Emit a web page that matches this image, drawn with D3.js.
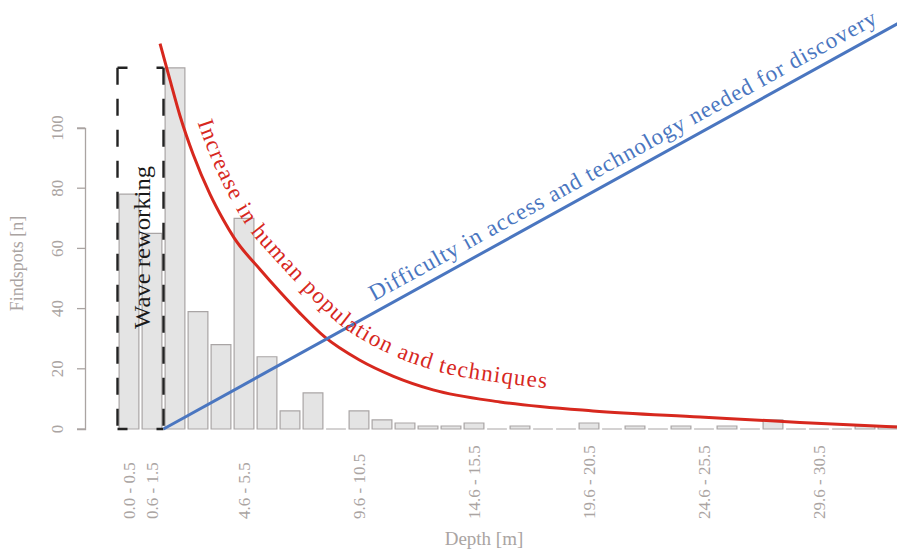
<!DOCTYPE html>
<html>
<head>
<meta charset="utf-8">
<script src="https://cdn.jsdelivr.net/npm/d3@7"></script>
<style>
    body { margin: 0; background: #fff; }
    text, textPath { font-family: "Liberation Serif", "DejaVu Serif", serif; }
</style>
</head>
<body>
<script>
/*******************************/
/* FINDSPOTS BY DEPTH HISTOGRAM */
/*******************************/

// depth bins (1 m each)
const bins = ["0.0 - 0.5", "0.6 - 1.5", "1.6 - 2.5", "2.6 - 3.5", "3.6 - 4.5",
    "4.6 - 5.5", "5.6 - 6.5", "6.6 - 7.5", "7.6 - 8.5", "8.6 - 9.5",
    "9.6 - 10.5", "10.6 - 11.5", "11.6 - 12.5", "12.6 - 13.5", "13.6 - 14.5",
    "14.6 - 15.5", "15.6 - 16.5", "16.6 - 17.5", "17.6 - 18.5", "18.6 - 19.5",
    "19.6 - 20.5", "20.6 - 21.5", "21.6 - 22.5", "22.6 - 23.5", "23.6 - 24.5",
    "24.6 - 25.5", "25.6 - 26.5", "26.6 - 27.5", "27.6 - 28.5", "28.6 - 29.5",
    "29.6 - 30.5", "30.6 - 31.5", "31.6 - 32.5", "32.6 - 33.5"];
// number of findspots per bin
const counts = [78, 65, 120, 39, 28, 70, 24, 6, 12, 0,
    6, 3, 2, 1, 1, 2, 0, 1, 0, 0,
    2, 0, 1, 0, 1, 0, 1, 0, 3, 0,
    0, 0, 1, 1];
// only these bins get a label on the x axis
const shownBins = ["0.0 - 0.5", "0.6 - 1.5", "4.6 - 5.5", "9.6 - 10.5",
    "14.6 - 15.5", "19.6 - 20.5", "24.6 - 25.5", "29.6 - 30.5"];
const yTicks = [0, 20, 40, 60, 80, 100];
// bins covered by the wave reworking box
const waveBins = ["0.0 - 0.5", "0.6 - 1.5"];
// schematic curves: [bin position, findspots]
const humanCurve = [[1.35, 128], [1.78, 116], [2.22, 104], [2.8, 91], [3.52, 78],
    [4.1, 69.5], [4.57, 63.5], [5.7, 53], [6.57, 45.5], [7.43, 38.5],
    [8.52, 30.5], [10.0, 23], [11.5, 17.5], [13.22, 13], [16.13, 9.0],
    [20.17, 6.0], [24.83, 4.0], [29.17, 2.2], [33.39, 0.7]];
const difficultyLine = [[1.5, 0], [33.5, 135]];

function HistChart() {
    let obj = {};
    const width = 897, height = 550;
    const font = "Liberation Serif";
    const grey = "#aaa4a2";
    const red = "#d7281e";
    const blue = "#4a76c0";
    let svg, x, xpos, y;

    obj.setUpChart = () => {
        obj.createSvg();
        obj.createScale();
        obj.createBars();
        obj.createBox();
        obj.createCurves();
    }

    obj.createSvg = () => {
        svg = d3.select("body")
            .append("svg")
            .attr("width", width)
            .attr("height", height)
            .attr("font-family", font);
    }

    obj.createScale = () => {
        // bars: one band per bin
        x = d3.scaleBand()
            .domain(bins)
            .range([117.5, 117.5 + 23 * bins.length])
            .paddingInner(0.14)
            .paddingOuter(0.07);
        // continuous position, 0 = centre of first bin
        xpos = d3.scaleLinear()
            .domain([0, bins.length - 1])
            .range([x(bins[0]) + x.bandwidth() / 2,
                    x(bins[bins.length - 1]) + x.bandwidth() / 2]);
        y = d3.scaleLinear()
            .domain([0, 100])
            .range([429, 128]);

        // y axis, labels turned like R does
        const yAxis = svg.append("g")
            .attr("transform", "translate(85,0)")
            .call(d3.axisLeft(y).tickValues(yTicks).tickSize(8));
        yAxis.select(".domain").attr("stroke", grey).attr("stroke-width", 1.3);
        yAxis.selectAll(".tick line").attr("stroke", grey).attr("stroke-width", 1.3);
        yAxis.selectAll(".tick text")
            .attr("fill", grey)
            .attr("font-size", 17)
            .attr("font-family", font)
            .attr("text-anchor", "middle")
            .attr("transform", "rotate(-90)")
            .attr("x", d => -y(d))
            .attr("y", -22)
            .attr("dy", 0);
        yAxis.selectAll(".tick").attr("transform", null)
            .select("line")
            .attr("y1", d => y(d)).attr("y2", d => y(d));

        svg.append("text")
            .attr("transform", "translate(23," + ((y(0) + y(100)) / 2 - 15) + ") rotate(-90)")
            .attr("text-anchor", "middle")
            .attr("fill", grey)
            .attr("font-size", 18)
            .text("Findspots [n]");

        // x axis only shows labels
        const xAxis = svg.append("g")
            .attr("transform", "translate(0," + y(0) + ")")
            .call(d3.axisBottom(x).tickValues(shownBins).tickSize(0));
        xAxis.select(".domain").remove();
        xAxis.selectAll(".tick text")
            .attr("fill", grey)
            .attr("font-size", 17)
            .attr("font-family", font)
            .attr("text-anchor", "start")
            .attr("transform", "rotate(-90)")
            .attr("x", -90)
            .attr("y", 0)
            .attr("dy", "0.35em");

        svg.append("text")
            .attr("x", 484)
            .attr("y", 545)
            .attr("text-anchor", "middle")
            .attr("fill", grey)
            .attr("font-size", 19)
            .text("Depth [m]");
    }

    obj.createBars = () => {
        // paths instead of rects so empty bins still show a flat line
        svg.selectAll(".bar")
            .data(counts)
            .enter()
            .append("path")
            .attr("class", "bar")
            .attr("d", (d, i) => {
                const bx = x(bins[i]), bw = x.bandwidth();
                return "M" + bx + "," + y(0) + "V" + y(d) + "H" + (bx + bw) + "V" + y(0) + "Z";
            })
            .attr("fill", "#e4e4e4")
            .attr("stroke", "#a9a5a5")
            .attr("stroke-width", 1.2);
    }

    obj.createBox = () => {
        // dashed box over the first two bins
        const step = x.step();
        const x0 = x(waveBins[0]) - x.paddingOuter() * step;
        const x1 = x(waveBins[waveBins.length - 1]) + x.bandwidth() + x.paddingInner() * step / 2;
        const top = y(d3.max(counts)), bottom = y(0);
        const sides = [[[x0, top], [x0, bottom]], [[x1, top], [x1, bottom]],
                       [[x0, bottom], [x1, bottom]], [[x0, top], [x1, top]]];
        svg.selectAll(".box")
            .data(sides)
            .enter()
            .append("path")
            .attr("class", "box")
            .attr("d", d => d3.line()(d))
            .attr("fill", "none")
            .attr("stroke", "#222")
            .attr("stroke-width", 2.4)
            .attr("stroke-dasharray", (d, i) => i < 2 ? "17,14" : "10,29");

        svg.append("text")
            .attr("transform", "translate(150," + ((top + bottom) / 2 - 1) + ") rotate(-90)")
            .attr("text-anchor", "middle")
            .attr("fill", "#1a1a1a")
            .attr("font-size", 23)
            .attr("textLength", 163)
            .attr("lengthAdjust", "spacingAndGlyphs")
            .text("Wave reworking");
    }

    // path running parallel to another one, for curved labels
    const offsetLine = (node, d0, d1) => {
        const L = node.getTotalLength();
        const pts = [];
        for (let s = 0; s <= L; s += 3) {
            const a = node.getPointAtLength(Math.max(0, s - 1.5));
            const b = node.getPointAtLength(Math.min(L, s + 1.5));
            const p = node.getPointAtLength(s);
            let dx = b.x - a.x, dy = b.y - a.y;
            const n = Math.hypot(dx, dy);
            dx /= n; dy /= n;
            const off = d0 + (d1 - d0) * Math.min(1, s / (L * 0.35));
            pts.push([p.x + dy * off, p.y - dx * off]);
        }
        return d3.line().curve(d3.curveBasis)(pts);
    }

    obj.createCurves = () => {
        const line = d3.line()
            .x(d => xpos(d[0]))
            .y(d => y(d[1]));

        const redPath = svg.append("path")
            .attr("d", line.curve(d3.curveMonotoneX)(humanCurve))
            .attr("fill", "none")
            .attr("stroke", red)
            .attr("stroke-width", 3);

        const bluePath = svg.append("path")
            .attr("d", line.curve(d3.curveLinear)(difficultyLine))
            .attr("fill", "none")
            .attr("stroke", blue)
            .attr("stroke-width", 3);

        // label paths
        const defs = svg.append("defs");
        defs.append("path")
            .attr("id", "redLabel")
            .attr("d", offsetLine(redPath.node(), 13, 19));
        defs.append("path")
            .attr("id", "blueLabel")
            .attr("d", offsetLine(bluePath.node(), 10, 10));

        svg.append("text")
            .attr("fill", red)
            .attr("font-size", 23)
            .attr("font-family", font)
            .append("textPath")
            .attr("href", "#redLabel")
            .attr("font-family", font)
            .attr("startOffset", 86)
            .attr("textLength", 470)
            .attr("lengthAdjust", "spacing")
            .text("Increase in human population and techniques");

        svg.append("text")
            .attr("fill", blue)
            .attr("font-size", 23)
            .attr("font-family", font)
            .append("textPath")
            .attr("href", "#blueLabel")
            .attr("font-family", font)
            .attr("startOffset", 246)
            .attr("textLength", 576)
            .attr("lengthAdjust", "spacing")
            .text("Difficulty in access and technology needed for discovery");
    }

    return obj;
}

var chart = HistChart();
chart.setUpChart();
</script>
</body>
</html>
